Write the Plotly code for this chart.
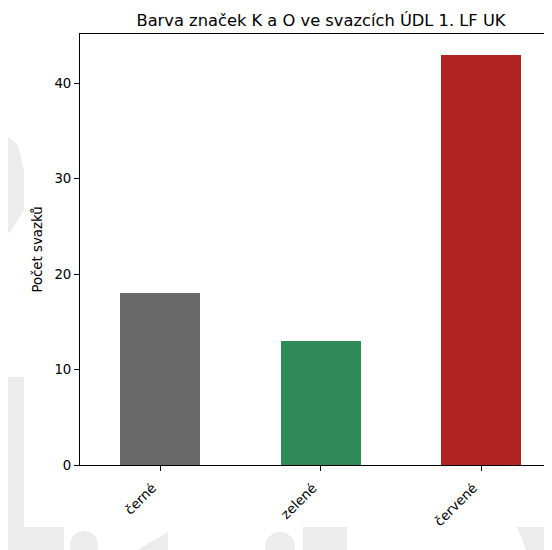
import plotly.graph_objects as go

categories = ["černé", "zelené", "červené"]
counts = [18, 13, 43]
bar_colors = ["#696969", "#2e8b57", "#b22222"]
y_ticks = [0, 10, 20, 30, 40]

# the page body adds an 8px offset; figure sized so it ends at the window edge
OFF = 8
W, H = 552 - OFF, 550 - OFF
L, R, T, B = 80 - OFF, 0, 34 - OFF, 85
PW, PH = W - L - R, H - T - B

def px(x):  # page pixel -> paper
    return (x - OFF - L) / PW

def py(y):
    return (H - B - (y - OFF)) / PH

fig = go.Figure()
fig.add_trace(go.Bar(
    x=categories, y=counts, width=0.5,
    marker=dict(color=bar_colors, line=dict(width=0)),
))

wm = "#ececec"
shapes = []
def rect(x0, y0, x1, y1):
    shapes.append(dict(type="rect", xref="paper", yref="paper", x0=px(x0), x1=px(x1),
                       y0=py(y1), y1=py(y0), fillcolor=wm, line=dict(width=0), layer="below"))
def circ(cx, cy, r):
    shapes.append(dict(type="circle", xref="paper", yref="paper", x0=px(cx - r), x1=px(cx + r),
                       y0=py(cy + r), y1=py(cy - r), fillcolor=wm, line=dict(width=0), layer="below"))
def poly(pts):
    d = "M " + " L ".join(f"{px(a)},{py(b)}" for a, b in pts) + " Z"
    shapes.append(dict(type="path", xref="paper", yref="paper", path=d,
                       fillcolor=wm, line=dict(width=0), layer="below"))

# faint page watermark outside the white figure area
rect(0, 377, 24, 560)
rect(0, 527, 64, 560)
circ(84, 545, 14)
poly([(120, 560), (168, 532), (168, 560)])
circ(280, 547, 15)
rect(303, 527, 347, 560)
poly([(517, 527), (560, 527), (560, 560), (530, 560)])
poly([(0, 130), (18, 145), (24, 170), (24, 210), (10, 232), (0, 236)])

# white figure area
shapes.append(dict(type="rect", xref="paper", yref="paper", x0=px(24), x1=px(570),
                   y0=py(527), y1=py(0), fillcolor="white", line=dict(width=0), layer="below"))

fig.update_layout(
    width=W, height=H,
    margin=dict(l=L, r=R, t=T, b=B, pad=0),
    paper_bgcolor="white", plot_bgcolor="rgba(0,0,0,0)",
    font=dict(family="DejaVu Sans", color="black", size=13),
    title=dict(text="Barva značek K a O ve svazcích ÚDL 1. LF UK", xref="container",
               x=(321 - OFF) / W, xanchor="center",
               y=1 - 12 / H, yanchor="middle", font=dict(size=16.3, color="black")),
    showlegend=False,
    bargap=0,
    shapes=shapes,
)
fig.update_xaxes(
    type="category", range=[-0.5, -0.5 + PW / 160.5],
    showline=True, linecolor="black", linewidth=1, mirror=True,
    ticks="outside", ticklen=5, tickcolor="black", tickangle=-45,
    ticklabelshift=-8, ticklabelstandoff=4,
    showgrid=False, zeroline=False, tickfont=dict(size=13.3),
)
fig.update_yaxes(
    range=[0, 45.15], tickvals=y_ticks,
    showline=True, linecolor="black", linewidth=1,
    ticks="outside", ticklen=5, tickcolor="black",
    showgrid=False, zeroline=False, tickfont=dict(size=13.3),
    title=dict(text="Počet svazků", font=dict(size=13.3), standoff=8),
)
fig.write_html("out.html")
